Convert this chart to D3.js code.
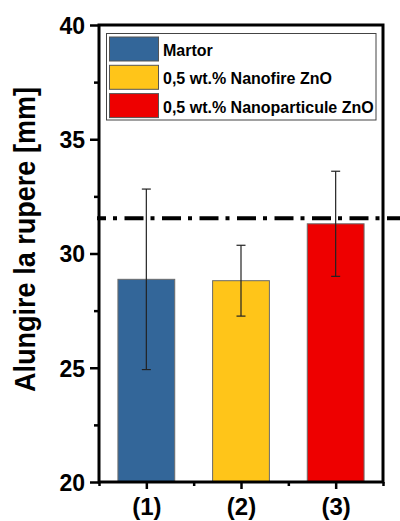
<!DOCTYPE html>
<html>
<head>
<meta charset="utf-8">
<script src="https://cdn.jsdelivr.net/npm/d3@7"></script>
<style>
  html, body { margin: 0; padding: 0; background: #fff; }
  svg { display: block; font-family: "Liberation Sans", Arial, sans-serif; }
</style>
</head>
<body>
<div id="chart"></div>
<script>
// Elongation at break for the three sample groups
const categories = ["(1)", "(2)", "(3)"];
const seriesNames = ["Martor", "0,5 wt.% Nanofire ZnO", "0,5 wt.% Nanoparticule ZnO"];
const means = [28.87, 28.81, 31.30];
const errors = [3.95, 1.55, 2.30];
const colors = ["#336699", "#FFC519", "#EE0000"];
const referenceLevel = 31.54;
const yTicks = [20, 25, 30, 35, 40];
const yMinorTicks = [22.5, 27.5, 32.5, 37.5];
const xMinorTicks = [0.5, 1.5, 2.5, 3.5];
const yTitle = "Alungire la rupere [mm]";

const W = 400, H = 521;
const plotL = 99, plotR = 383, plotT = 25, plotB = 482;

const svg = d3.select("#chart").append("svg")
  .attr("width", W).attr("height", H);

const x = d3.scaleLinear().domain([0.5, 3.5]).range([plotL, plotR]);
const y = d3.scaleLinear().domain([20, 40]).range([plotB, plotT]);
const barW = x(1.3) - x(0.7);

// bars
svg.append("g").selectAll("rect")
  .data(means)
  .join("rect")
  .attr("x", (d, i) => x(i + 1) - barW / 2)
  .attr("y", d => y(d))
  .attr("width", barW)
  .attr("height", d => y(20) - y(d))
  .attr("fill", (d, i) => colors[i])
  .attr("stroke", "#6b6b6b")
  .attr("stroke-width", 1);

// error bars
const eg = svg.append("g").attr("stroke", "#222").attr("stroke-width", 1.2);
means.forEach((m, i) => {
  const cx = x(i + 1);
  const hi = y(m + errors[i]), lo = y(m - errors[i]);
  eg.append("line").attr("x1", cx).attr("x2", cx).attr("y1", hi).attr("y2", lo);
  eg.append("line").attr("x1", cx - 4.5).attr("x2", cx + 4.5).attr("y1", hi).attr("y2", hi);
  eg.append("line").attr("x1", cx - 4.5).attr("x2", cx + 4.5).attr("y1", lo).attr("y2", lo);
});

// reference level (dash-dot)
svg.append("line")
  .attr("x1", 97).attr("x2", 400)
  .attr("y1", y(referenceLevel)).attr("y2", y(referenceLevel))
  .attr("stroke", "#000")
  .attr("stroke-width", 4)
  .attr("stroke-dasharray", "19,7,4,7.5")
  .attr("stroke-dashoffset", 10);

// legend
const lg = svg.append("g");
lg.append("rect")
  .attr("x", 106.5).attr("y", 33.5).attr("width", 269.5).attr("height", 86.5)
  .attr("fill", "#fff").attr("stroke", "#444").attr("stroke-width", 1);
seriesNames.forEach((name, i) => {
  const ry = 37 + i * 28.3;
  lg.append("rect")
    .attr("x", 109.5).attr("y", ry).attr("width", 49).attr("height", 24)
    .attr("fill", colors[i]).attr("stroke", "#555").attr("stroke-width", 1);
  lg.append("text")
    .attr("x", 163).attr("y", ry + 19)
    .attr("font-size", 16).attr("font-weight", "bold").attr("fill", "#000")
    .text(name);
});

// axes
const yAxis = svg.append("g").attr("transform", `translate(${plotL},0)`)
  .call(d3.axisLeft(y).tickValues(yTicks).tickSize(9).tickPadding(5).tickFormat(d3.format("d")));
const yMinor = svg.append("g").attr("transform", `translate(${plotL},0)`)
  .call(d3.axisLeft(y).tickValues(yMinorTicks).tickSize(5).tickFormat(""));
const xAxis = svg.append("g").attr("transform", `translate(0,${plotB})`)
  .call(d3.axisBottom(x).tickValues([1, 2, 3]).tickSize(7).tickPadding(9).tickFormat((d, i) => categories[i]));
const xMinor = svg.append("g").attr("transform", `translate(0,${plotB})`)
  .call(d3.axisBottom(x).tickValues(xMinorTicks).tickSize(4).tickFormat(""));

[yAxis, yMinor, xAxis, xMinor].forEach(g => {
  g.select(".domain").remove();
  g.selectAll(".tick line").attr("stroke", "#000").attr("stroke-width", 2.5);
  g.selectAll("text").attr("fill", "#000").attr("font-weight", "bold")
    .attr("font-family", "'Liberation Sans', Arial, sans-serif");
});
yAxis.selectAll("text").attr("font-size", 23).attr("dy", "0.36em");
xAxis.selectAll("text").attr("font-size", 24);

// frame
svg.append("rect")
  .attr("x", plotL).attr("y", plotT).attr("width", plotR - plotL).attr("height", plotB - plotT)
  .attr("fill", "none").attr("stroke", "#000").attr("stroke-width", 3);

// y title
svg.append("text")
  .attr("transform", `translate(35,${(87 + 392) / 2}) rotate(-90)`)
  .attr("text-anchor", "middle")
  .attr("font-size", 29).attr("font-weight", "bold").attr("fill", "#000")
  .attr("textLength", 305).attr("lengthAdjust", "spacingAndGlyphs")
  .text(yTitle);
</script>
</body>
</html>
